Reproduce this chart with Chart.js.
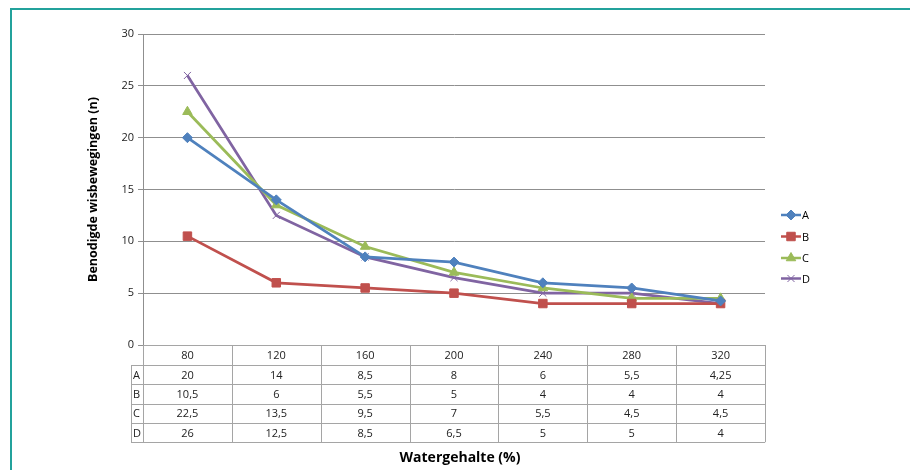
<!DOCTYPE html>
<html lang="nl">
<head>
  <meta charset="UTF-8">
  <title>Benodigde wisbewegingen</title>
  <script src="https://cdn.jsdelivr.net/npm/chart.js"></script>
  <style>
    body {
      margin: 0;
      padding: 0;
      background: #fff;
      overflow: hidden;
      font-family: 'Open Sans', sans-serif;
    }
    .frame {
      position: absolute;
      left: 10px;
      top: 8px;
      width: 1000px;
      height: 600px;
      border-left: 2px solid #23a29c;
      border-top: 2px solid #23a29c;
    }
    .wrap {
      position: absolute;
      left: 0;
      top: 0;
      width: 910px;
      height: 470px;
    }
  </style>
</head>
<body>
  <div class="frame"></div>
  <div class="wrap">
    <canvas id="chart" width="910" height="470"></canvas>
  </div>
  <script>
    // Watergehalte (%) categories
    const categories = ['80', '120', '160', '200', '240', '280', '320'];
    const seriesA = [20, 14, 8.5, 8, 6, 5.5, 4.25];
    const seriesB = [10.5, 6, 5.5, 5, 4, 4, 4];
    const seriesC = [22.5, 13.5, 9.5, 7, 5.5, 4.5, 4.5];
    const seriesD = [26, 12.5, 8.5, 6.5, 5, 5, 4];
    const yTicks = [0, 5, 10, 15, 20, 25, 30];

    const seriesNames = ['A', 'B', 'C', 'D'];
    const seriesData = [seriesA, seriesB, seriesC, seriesD];
    const colors = ['#4f81bd', '#c0504d', '#9bbb59', '#8064a2'];
    const markers = ['rectRot', 'rect', 'triangle', 'crossRot'];
    const markerSize = [5, 6, 5.5, 5];

    const fmt = v => String(v).replace('.', ',');

    // Data table, legend and x title drawn under/next to the plot
    const tablePlugin = {
      id: 'tablePlugin',
      afterDraw(chart) {
        const ctx = chart.ctx;
        const area = chart.chartArea;
        const x = chart.scales.x;
        const labelLeft = area.left - 12;
        const headerH = 20;
        const rowH = 19.3;
        const top = area.bottom;
        const bottom = top + headerH + rowH * seriesNames.length;
        const half = (x.getPixelForValue(1) - x.getPixelForValue(0)) / 2;

        ctx.save();
        ctx.strokeStyle = '#a5a5a5';
        ctx.lineWidth = 1;
        ctx.beginPath();
        // vertical lines
        for (let i = 0; i <= categories.length; i++) {
          const px = Math.round(x.getPixelForValue(0) - half + i * half * 2) + 0.5;
          ctx.moveTo(px, top);
          ctx.lineTo(px, bottom);
        }
        ctx.moveTo(Math.round(labelLeft) + 0.5, top + headerH);
        ctx.lineTo(Math.round(labelLeft) + 0.5, bottom);
        // horizontal lines
        ctx.moveTo(area.left, Math.round(top) + 0.5);
        ctx.lineTo(area.right, Math.round(top) + 0.5);
        for (let r = 0; r <= seriesNames.length; r++) {
          const py = Math.round(top + headerH + r * rowH) + 0.5;
          ctx.moveTo(labelLeft, py);
          ctx.lineTo(area.right, py);
        }
        ctx.stroke();

        ctx.fillStyle = '#222';
        ctx.font = '11px "Open Sans", sans-serif';
        ctx.textBaseline = 'middle';
        ctx.textAlign = 'center';
        categories.forEach((c, i) => {
          ctx.fillText(c, x.getPixelForValue(i), top + headerH / 2 + 1);
        });
        seriesNames.forEach((name, r) => {
          const cy = top + headerH + r * rowH + rowH / 2 + 1;
          ctx.textAlign = 'left';
          ctx.fillText(name, labelLeft + 2, cy);
          ctx.textAlign = 'center';
          seriesData[r].forEach((v, i) => {
            ctx.fillText(fmt(v), x.getPixelForValue(i), cy);
          });
        });

        // x axis title
        ctx.font = 'bold 14px "Open Sans", sans-serif';
        ctx.fillStyle = '#000';
        ctx.textAlign = 'center';
        ctx.fillText('Watergehalte (%)', (area.left + area.right) / 2 + 6, 458);

        // legend
        const lx = 781;
        const ly = [215, 236.5, 258, 278.5];
        ctx.font = '11px "Open Sans", sans-serif';
        seriesNames.forEach((name, i) => {
          ctx.strokeStyle = colors[i];
          ctx.lineWidth = 2.5;
          ctx.beginPath();
          ctx.moveTo(lx, ly[i]);
          ctx.lineTo(lx + 20, ly[i]);
          ctx.stroke();
          ctx.fillStyle = colors[i];
          ctx.lineWidth = 1;
          Chart.helpers.drawPoint(ctx, {
            pointStyle: markers[i],
            radius: markerSize[i],
            borderWidth: 1
          }, lx + 10, ly[i]);
          ctx.fillStyle = '#000';
          ctx.textAlign = 'left';
          ctx.fillText(name, lx + 21, ly[i] + 1);
        });
        ctx.restore();
      }
    };

    new Chart(document.getElementById('chart'), {
      type: 'line',
      data: {
        labels: categories,
        datasets: seriesNames.map((name, i) => ({
          label: name,
          data: seriesData[i],
          borderColor: colors[i],
          backgroundColor: colors[i],
          borderWidth: 2.75,
          pointStyle: markers[i],
          pointRadius: markerSize[i],
          pointBorderWidth: 1,
          pointBorderColor: colors[i],
          tension: 0,
          fill: false
        }))
      },
      options: {
        responsive: false,
        animation: false,
        layout: {
          padding: { left: 82, top: 34, right: 145, bottom: 125 }
        },
        plugins: {
          legend: { display: false },
          tooltip: { enabled: false }
        },
        scales: {
          x: {
            type: 'category',
            display: false,
            offset: true
          },
          y: {
            min: 0,
            max: 30,
            afterBuildTicks: scale => {
              scale.ticks = yTicks.map(v => ({ value: v }));
            },
            afterFit: scale => {
              scale.width = 61;
            },
            grid: {
              color: '#8f8f8f',
              tickLength: 5,
              lineWidth: 1
            },
            border: { color: '#8f8f8f' },
            ticks: {
              color: '#222',
              padding: 4,
              font: { family: 'Open Sans', size: 11 }
            },
            title: {
              display: true,
              text: 'Benodigde wisbewegingen (n)',
              color: '#000',
              font: { family: 'Open Sans', size: 12.5, weight: 'bold' }
            }
          }
        }
      },
      plugins: [tablePlugin]
    });
  </script>
</body>
</html>
